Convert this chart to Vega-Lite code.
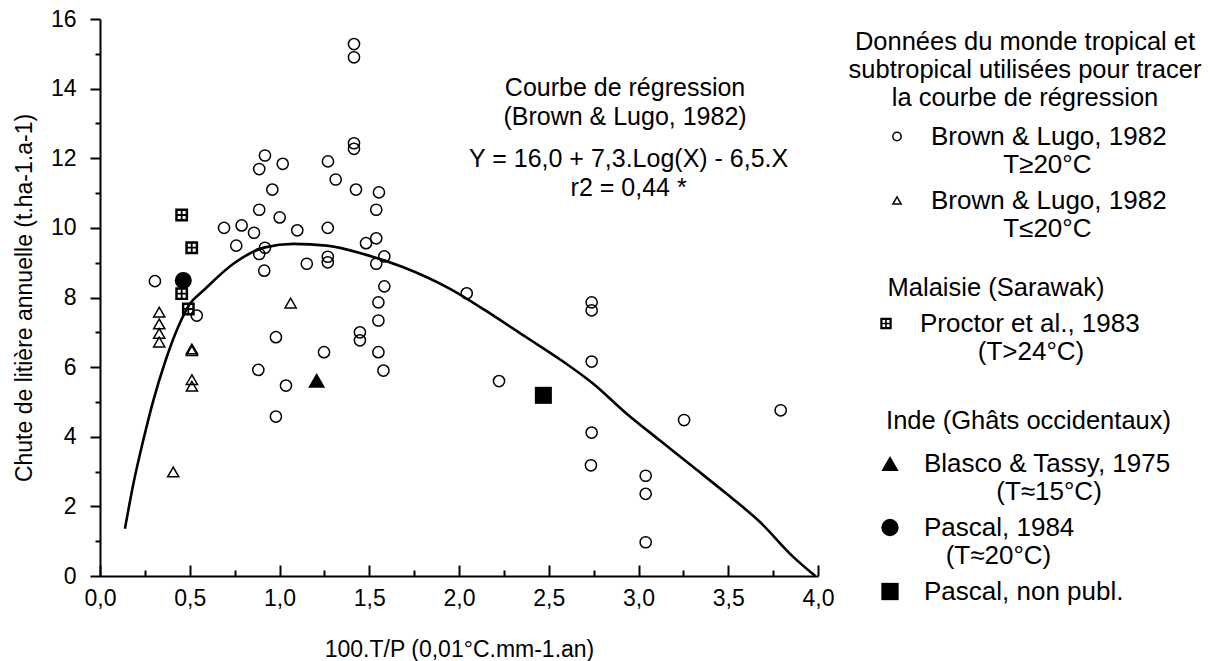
{
  "$schema": "https://vega.github.io/schema/vega-lite/v6.json",
  "width": 718,
  "height": 557,
  "autosize": {"type": "none"},
  "padding": {"left": 100, "top": 19, "right": 401, "bottom": 85},
  "background": "white",
  "config": {
    "view": {"stroke": null},
    "font": "Liberation Sans",
    "legend": {
      "orient": "right",
      "offset": 20,
      "titleFont": "Liberation Sans",
      "titleFontSize": 25.5,
      "titleFontWeight": "normal",
      "titleColor": "black",
      "titleAlign": "center",
      "titleAnchor": "middle",
      "titleLimit": 600,
      "titleLineHeight": 28,
      "labelFont": "Liberation Sans",
      "labelFontSize": 26,
      "labelColor": "black",
      "labelLimit": 600,
      "labelOffset": 21,
      "rowPadding": 10
    }
  },
  "datasets": {
    "courbe": [
      {"x": 0.139, "y": 1.36}, {"x": 0.186, "y": 2.65}, {"x": 0.241, "y": 3.9}, {"x": 0.297, "y": 5.04},
      {"x": 0.362, "y": 6.14}, {"x": 0.427, "y": 7.05}, {"x": 0.501, "y": 7.82}, {"x": 0.576, "y": 8.2},
      {"x": 0.743, "y": 8.97}, {"x": 0.919, "y": 9.44}, {"x": 1.077, "y": 9.54}, {"x": 1.263, "y": 9.49},
      {"x": 1.467, "y": 9.25}, {"x": 1.69, "y": 8.87}, {"x": 1.95, "y": 8.25}, {"x": 2.2, "y": 7.45},
      {"x": 2.377, "y": 6.85}, {"x": 2.563, "y": 6.22}, {"x": 2.748, "y": 5.52}, {"x": 2.934, "y": 4.66},
      {"x": 3.12, "y": 3.89}, {"x": 3.305, "y": 3.13}, {"x": 3.491, "y": 2.36}, {"x": 3.677, "y": 1.55},
      {"x": 3.862, "y": 0.55}, {"x": 3.985, "y": 0.0}
    ],
    "brown": [
      {"x": 1.415, "y": 15.28, "serie": "Brown & Lugo, 1982 T≥20°C"},
      {"x": 1.415, "y": 14.9, "serie": "Brown & Lugo, 1982 T≥20°C"},
      {"x": 1.415, "y": 12.43, "serie": "Brown & Lugo, 1982 T≥20°C"},
      {"x": 1.415, "y": 12.27, "serie": "Brown & Lugo, 1982 T≥20°C"},
      {"x": 0.919, "y": 12.08, "serie": "Brown & Lugo, 1982 T≥20°C"},
      {"x": 0.887, "y": 11.69, "serie": "Brown & Lugo, 1982 T≥20°C"},
      {"x": 1.018, "y": 11.84, "serie": "Brown & Lugo, 1982 T≥20°C"},
      {"x": 1.27, "y": 11.91, "serie": "Brown & Lugo, 1982 T≥20°C"},
      {"x": 1.313, "y": 11.39, "serie": "Brown & Lugo, 1982 T≥20°C"},
      {"x": 0.96, "y": 11.1, "serie": "Brown & Lugo, 1982 T≥20°C"},
      {"x": 1.426, "y": 11.1, "serie": "Brown & Lugo, 1982 T≥20°C"},
      {"x": 1.554, "y": 11.02, "serie": "Brown & Lugo, 1982 T≥20°C"},
      {"x": 0.887, "y": 10.52, "serie": "Brown & Lugo, 1982 T≥20°C"},
      {"x": 1.001, "y": 10.3, "serie": "Brown & Lugo, 1982 T≥20°C"},
      {"x": 1.539, "y": 10.52, "serie": "Brown & Lugo, 1982 T≥20°C"},
      {"x": 0.691, "y": 10.0, "serie": "Brown & Lugo, 1982 T≥20°C"},
      {"x": 0.789, "y": 10.07, "serie": "Brown & Lugo, 1982 T≥20°C"},
      {"x": 0.858, "y": 9.86, "serie": "Brown & Lugo, 1982 T≥20°C"},
      {"x": 1.099, "y": 9.93, "serie": "Brown & Lugo, 1982 T≥20°C"},
      {"x": 1.269, "y": 10.0, "serie": "Brown & Lugo, 1982 T≥20°C"},
      {"x": 0.759, "y": 9.49, "serie": "Brown & Lugo, 1982 T≥20°C"},
      {"x": 0.919, "y": 9.43, "serie": "Brown & Lugo, 1982 T≥20°C"},
      {"x": 0.887, "y": 9.25, "serie": "Brown & Lugo, 1982 T≥20°C"},
      {"x": 1.539, "y": 9.7, "serie": "Brown & Lugo, 1982 T≥20°C"},
      {"x": 1.482, "y": 9.56, "serie": "Brown & Lugo, 1982 T≥20°C"},
      {"x": 1.269, "y": 9.17, "serie": "Brown & Lugo, 1982 T≥20°C"},
      {"x": 1.269, "y": 9.01, "serie": "Brown & Lugo, 1982 T≥20°C"},
      {"x": 1.152, "y": 8.97, "serie": "Brown & Lugo, 1982 T≥20°C"},
      {"x": 1.584, "y": 9.18, "serie": "Brown & Lugo, 1982 T≥20°C"},
      {"x": 1.539, "y": 8.97, "serie": "Brown & Lugo, 1982 T≥20°C"},
      {"x": 0.915, "y": 8.77, "serie": "Brown & Lugo, 1982 T≥20°C"},
      {"x": 1.584, "y": 8.32, "serie": "Brown & Lugo, 1982 T≥20°C"},
      {"x": 1.551, "y": 7.86, "serie": "Brown & Lugo, 1982 T≥20°C"},
      {"x": 1.551, "y": 7.34, "serie": "Brown & Lugo, 1982 T≥20°C"},
      {"x": 1.448, "y": 7.0, "serie": "Brown & Lugo, 1982 T≥20°C"},
      {"x": 1.448, "y": 6.77, "serie": "Brown & Lugo, 1982 T≥20°C"},
      {"x": 1.248, "y": 6.43, "serie": "Brown & Lugo, 1982 T≥20°C"},
      {"x": 1.551, "y": 6.43, "serie": "Brown & Lugo, 1982 T≥20°C"},
      {"x": 1.579, "y": 5.9, "serie": "Brown & Lugo, 1982 T≥20°C"},
      {"x": 2.043, "y": 8.12, "serie": "Brown & Lugo, 1982 T≥20°C"},
      {"x": 2.223, "y": 5.6, "serie": "Brown & Lugo, 1982 T≥20°C"},
      {"x": 2.739, "y": 7.86, "serie": "Brown & Lugo, 1982 T≥20°C"},
      {"x": 2.739, "y": 7.63, "serie": "Brown & Lugo, 1982 T≥20°C"},
      {"x": 2.739, "y": 6.16, "serie": "Brown & Lugo, 1982 T≥20°C"},
      {"x": 2.739, "y": 4.12, "serie": "Brown & Lugo, 1982 T≥20°C"},
      {"x": 2.735, "y": 3.18, "serie": "Brown & Lugo, 1982 T≥20°C"},
      {"x": 3.04, "y": 2.88, "serie": "Brown & Lugo, 1982 T≥20°C"},
      {"x": 3.04, "y": 2.36, "serie": "Brown & Lugo, 1982 T≥20°C"},
      {"x": 3.04, "y": 0.97, "serie": "Brown & Lugo, 1982 T≥20°C"},
      {"x": 3.254, "y": 4.48, "serie": "Brown & Lugo, 1982 T≥20°C"},
      {"x": 3.792, "y": 4.76, "serie": "Brown & Lugo, 1982 T≥20°C"},
      {"x": 0.306, "y": 8.47, "serie": "Brown & Lugo, 1982 T≥20°C"},
      {"x": 0.539, "y": 7.48, "serie": "Brown & Lugo, 1982 T≥20°C"},
      {"x": 0.98, "y": 6.86, "serie": "Brown & Lugo, 1982 T≥20°C"},
      {"x": 0.882, "y": 5.92, "serie": "Brown & Lugo, 1982 T≥20°C"},
      {"x": 1.036, "y": 5.47, "serie": "Brown & Lugo, 1982 T≥20°C"},
      {"x": 0.98, "y": 4.58, "serie": "Brown & Lugo, 1982 T≥20°C"},
      {"x": 0.33, "y": 7.58, "serie": "Brown & Lugo, 1982 T≤20°C"},
      {"x": 0.33, "y": 7.24, "serie": "Brown & Lugo, 1982 T≤20°C"},
      {"x": 0.33, "y": 6.97, "serie": "Brown & Lugo, 1982 T≤20°C"},
      {"x": 0.33, "y": 6.72, "serie": "Brown & Lugo, 1982 T≤20°C"},
      {"x": 0.408, "y": 2.99, "serie": "Brown & Lugo, 1982 T≤20°C"},
      {"x": 1.062, "y": 7.84, "serie": "Brown & Lugo, 1982 T≤20°C"},
      {"x": 0.512, "y": 6.52, "serie": "Brown & Lugo, 1982 T≤20°C"},
      {"x": 0.512, "y": 6.47, "serie": "Brown & Lugo, 1982 T≤20°C"},
      {"x": 0.512, "y": 5.64, "serie": "Brown & Lugo, 1982 T≤20°C"},
      {"x": 0.512, "y": 5.45, "serie": "Brown & Lugo, 1982 T≤20°C"}
    ],
    "proctor": [
      {"x": 0.455, "y": 10.37, "serie": "Proctor et al., 1983 (T>24°C)"},
      {"x": 0.511, "y": 9.43, "serie": "Proctor et al., 1983 (T>24°C)"},
      {"x": 0.455, "y": 8.11, "serie": "Proctor et al., 1983 (T>24°C)"},
      {"x": 0.492, "y": 7.67, "serie": "Proctor et al., 1983 (T>24°C)"}
    ],
    "inde": [
      {"x": 1.207, "y": 5.62, "serie": "Blasco & Tassy, 1975 (T≈15°C)"},
      {"x": 0.464, "y": 8.49, "serie": "Pascal, 1984 (T≈20°C)"},
      {"x": 2.47, "y": 5.19, "serie": "Pascal, non publ."}
    ],
    "annotations": [
      {"x": 2.925, "y": 13.78, "texte": ["Courbe de régression", "(Brown & Lugo, 1982)"]},
      {"x": 2.945, "y": 11.76, "texte": ["Y = 16,0 + 7,3.Log(X) - 6,5.X", "r2 = 0,44 *"]}
    ]
  },
  "encoding": {
    "x": {
      "field": "x",
      "type": "quantitative",
      "title": "100.T/P (0,01°C.mm-1.an)",
      "scale": {"domain": [0, 4], "nice": false, "zero": false},
      "axis": {
        "values": [0, 0.25, 0.5, 0.75, 1, 1.25, 1.5, 1.75, 2, 2.25, 2.5, 2.75, 3, 3.25, 3.5, 3.75, 4],
        "labelExpr": "(datum.value * 2) % 1 === 0 ? replace(format(datum.value, '.1f'), '.', ',') : ''",
        "grid": false,
        "domainColor": "black",
        "domainWidth": 2,
        "tickColor": "black",
        "tickWidth": 2,
        "tickSize": {"condition": {"test": "(datum.value * 2) % 1 !== 0", "value": -6}, "value": -11},
        "labelFont": "Liberation Sans",
        "labelFontSize": 23,
        "labelColor": "black",
        "labelPadding": 22,
        "labelFlush": false,
        "labelOverlap": false,
        "titleFont": "Liberation Sans",
        "titleFontSize": 23,
        "titleFontWeight": "normal",
        "titleColor": "black",
        "titlePadding": 23
      }
    },
    "y": {
      "field": "y",
      "type": "quantitative",
      "title": "Chute de litière annuelle (t.ha-1.a-1)",
      "scale": {"domain": [0, 16], "nice": false},
      "axis": {
        "values": [0, 1, 2, 3, 4, 5, 6, 7, 8, 9, 10, 11, 12, 13, 14, 15, 16],
        "labelExpr": "datum.value % 2 === 0 ? datum.label : ''",
        "grid": false,
        "domainColor": "black",
        "domainWidth": 2,
        "tickColor": "black",
        "tickWidth": 2,
        "tickSize": {"condition": {"test": "datum.value % 2 !== 0", "value": 5}, "value": 10},
        "labelFont": "Liberation Sans",
        "labelFontSize": 23,
        "labelColor": "black",
        "labelPadding": 14,
        "labelFlush": false,
        "labelOverlap": false,
        "titleFont": "Liberation Sans",
        "titleFontSize": 23,
        "titleFontWeight": "normal",
        "titleColor": "black",
        "titlePadding": 14
      }
    }
  },
  "layer": [
    {
      "data": {"name": "courbe"},
      "mark": {"type": "line", "color": "black", "strokeWidth": 2.6, "interpolate": "monotone"}
    },
    {
      "data": {"name": "brown"},
      "mark": {"type": "point", "filled": false, "color": "black", "strokeWidth": 1.5, "size": 125, "opacity": 1},
      "encoding": {
        "shape": {
          "field": "serie",
          "type": "nominal",
          "scale": {"domain": ["Brown & Lugo, 1982 T≥20°C", "Brown & Lugo, 1982 T≤20°C"], "range": ["circle", "triangle-up"]},
          "legend": {
            "title": ["Données du monde tropical et", "subtropical utilisées pour tracer", "la courbe de régression"],
            "padding": 11,
            "titlePadding": 12,
            "rowPadding": 10,
            "symbolSize": 70,
            "symbolStrokeWidth": 1.5,
            "labelExpr": "datum.label === 'Brown & Lugo, 1982 T≥20°C' ? ['Brown & Lugo, 1982', '\u200b\u00a0\u00a0\u00a0\u00a0\u00a0\u00a0\u00a0\u00a0\u00a0\u00a0T≥20°C'] : ['Brown & Lugo, 1982', '\u200b\u00a0\u00a0\u00a0\u00a0\u00a0\u00a0\u00a0\u00a0\u00a0\u00a0T≤20°C']"
          }
        }
      }
    },
    {
      "data": {"name": "proctor"},
      "mark": {"type": "point", "filled": true, "color": "black", "size": 165, "opacity": 1},
      "encoding": {
        "shape": {
          "field": "serie",
          "type": "nominal",
          "scale": {"domain": ["Proctor et al., 1983 (T>24°C)"], "range": ["M-1,-1H1V1H-1Z M-0.62,-0.62V-0.14H-0.14V-0.62Z M0.14,-0.62V-0.14H0.62V-0.62Z M-0.62,0.14V0.62H-0.14V0.14Z M0.14,0.14V0.62H0.62V0.14Z"]},
          "legend": {
            "title": "Malaisie (Sarawak)",
            "padding": 15,
            "titlePadding": 9,
            "symbolOffset": 20,
            "symbolSize": 130,
            "labelExpr": "['Proctor et al., 1983', '\u200b\u00a0\u00a0\u00a0\u00a0\u00a0\u00a0\u00a0\u00a0(T>24°C)']"
          }
        }
      }
    },
    {
      "data": {"name": "inde"},
      "mark": {"type": "point", "filled": true, "color": "black", "size": 290, "opacity": 1},
      "encoding": {
        "shape": {
          "field": "serie",
          "type": "nominal",
          "scale": {"domain": ["Blasco & Tassy, 1975 (T≈15°C)", "Pascal, 1984 (T≈20°C)", "Pascal, non publ."], "range": ["triangle-up", "circle", "square"]},
          "legend": {
            "title": "Inde (Ghâts occidentaux)",
            "titleAnchor": "end",
            "titleAlign": "right",
            "padding": 21,
            "titlePadding": 16,
            "rowPadding": 10,
            "symbolOffset": 18,
            "symbolSize": 300,
            "labelExpr": "datum.label === 'Blasco & Tassy, 1975 (T≈15°C)' ? ['Blasco & Tassy, 1975', '\u200b\u00a0\u00a0\u00a0\u00a0\u00a0\u00a0\u00a0\u00a0\u00a0\u00a0(T≈15°C)'] : datum.label === 'Pascal, 1984 (T≈20°C)' ? ['Pascal, 1984', '\u200b\u00a0\u00a0\u00a0(T≈20°C)'] : datum.label"
          }
        }
      }
    },
    {
      "data": {"name": "annotations"},
      "mark": {"type": "text", "font": "Liberation Sans", "fontSize": 25, "lineHeight": 29, "align": "center", "baseline": "alphabetic", "color": "black"},
      "encoding": {
        "text": {"field": "texte"}
      }
    }
  ],
  "resolve": {"scale": {"shape": "independent"}}
}
